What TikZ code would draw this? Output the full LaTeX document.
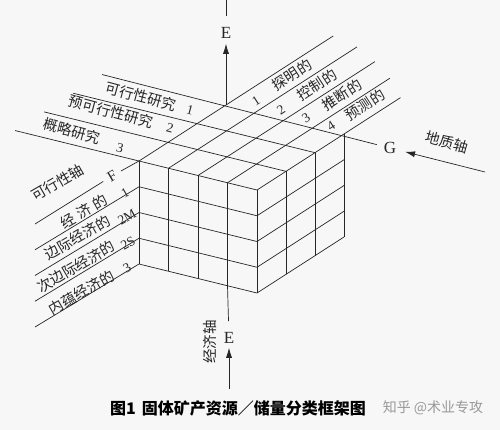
\documentclass[tikz,border=0pt]{standalone}
\usepackage{fontspec}
\setmainfont{Liberation Serif}
\newfontfamily\cjk{Noto Sans CJK SC}
\usetikzlibrary{arrows.meta}

\begin{document}
\begin{tikzpicture}
[x=1pt,y=-1pt,
  gridLine/.style={line width=0.7pt,black!85},
  axisArrow/.style={line width=0.7pt,black!85,-{Latex[length=10pt,width=6pt]}},
  tagText/.style={font=\cjk\fontsize{14.5}{14.5}\selectfont,inner sep=0pt,text=black!85},
  numText/.style={font=\fontsize{13.5}{13.5}\selectfont,inner sep=0pt,text=black!85},
  axisText/.style={font=\fontsize{17}{17}\selectfont,inner sep=1pt,text=black!85}]
\path[use as bounding box,fill=black!3] (0,0) rectangle (500,430);

%% axis letters and free ends
\node[axisText] (Etop) at (226,33) {E};
\node[axisText] (Ebot) at (229,338) {E};
\node[axisText] (G) at (390,148) {G};
\node[axisText,font=\fontsize{15}{15}\selectfont,rotate=30] (F) at (112,176) {F};
\coordinate (Eend) at (226,0);
\coordinate (Etail) at (229,389);
\coordinate (Gtail) at (485,172);
\coordinate (Fend) at (35,224);

%% the cube, in cell units
\begin{scope}[shift={(226,105)},x={(29.5pt,-7.25pt)},y={(-29pt,-18.67pt)},z={(0pt,-25.75pt)}]
  \coordinate (O) at (0,0,0);
  \coordinate (Fcorner) at (0,3,0);
  \coordinate (Ebase) at (3,3,4);
  % feasibility lines
  \foreach \feas in {1,2,3}
    \draw[gridLine] (-4.2,\feas,0) -- (4,\feas,0);
  \draw[gridLine,shorten >=6pt] (-4.2,0,0) -- (G);
  % geology lines
  \foreach \geo/\len in {0/3.7,1/3.5,2/3.1,3/2.6,4/1.95}
    \draw[gridLine] (\geo,3,0) -- (\geo,-\len,0);
  % front and right faces
  \foreach \geo in {0,...,4}
    \draw[gridLine] (\geo,3,0) -- (\geo,3,4);
  \foreach \feas in {0,1,2}
    \draw[gridLine] (4,\feas,0) -- (4,\feas,4);
  \foreach \econ in {1,...,4}
    \draw[gridLine] (0,3,\econ) -- (4,3,\econ) -- (4,0,\econ);
  % economic lines
  \foreach \econ in {1,...,4}
    \draw[gridLine] (0,3,\econ) -- ++(-104pt,-63pt);
\end{scope}

%% axes
\draw[gridLine,shorten >=5pt] (Fend) -- (F);
\draw[gridLine,shorten <=5pt] (F) -- (Fcorner);
\draw[axisArrow,shorten >=4pt] (O) -- (Etop);
\draw[gridLine,shorten <=10pt] (Etop) -- (Eend);
\draw[gridLine,shorten >=10pt] (Ebase) -- (Ebot);
\draw[axisArrow,shorten >=3pt] (Etail) -- (Ebot);
\draw[axisArrow,shorten >=8pt] (Gtail) -- (G);

%% feasibility labels
\foreach \tagname/\x/\y/\tagtext in {fs/141/96.5/可行性研究, pfs/111/111.5/预可行性研究, ss/71.5/131/概略研究}
  \node[tagText,rotate=-15] (\tagname) at (\x,\y) {\tagtext};
\foreach \numname/\x/\y/\numtext in {fsn/190/110/1, pfsn/170/128/2, ssn/120/148/3}
  \node[numText,rotate=-15] (\numname) at (\x,\y) {\numtext};

%% geology labels
\foreach \tagname/\x/\y/\tagtext in {geo1/292/75/探明的, geo2/317/85/控制的, geo3/342/95/推断的, geo4/365/105/预测的}
  \node[tagText,rotate=33] (\tagname) at (\x,\y) {\tagtext};
\foreach \numname/\x/\y/\numtext in {geo1n/256/101/1, geo2n/281/110/2, geo3n/306/118/3, geo4n/331/126/4}
  \node[numText,rotate=33] (\numname) at (\x,\y) {\numtext};

%% economic labels
\node[tagText,rotate=30] (faxis) at (57.5,182.5) {可行性轴};
\foreach \tagname/\x/\y/\tagtext in {eco1/84/211.5/经\hspace{4.5pt}济\hspace{4.5pt}的, eco2/77.5/237.5/边际经济的, eco3/76/266.5/次边际经济的, eco4/81.5/292.5/内蕴经济的}
  \node[tagText,rotate=30] (\tagname) at (\x,\y) {\tagtext};
\foreach \numname/\x/\y/\numtext in {eco1n/125/193/1, eco2n/127/217/2M, eco3n/128/243/2S, eco4n/127/268/3}
  \node[numText,rotate=30] (\numname) at (\x,\y) {\numtext};

%% axis names
\node[tagText,rotate=-16] (geoAxis) at (447,142) {地质轴};
\node[tagText,rotate=90] (ecoAxis) at (210,342) {经济轴};

%% caption
\node[font=\cjk\bfseries\fontsize{16}{16}\selectfont,inner sep=0pt] (caption) at (238,408) {图1\hspace{6pt}固体矿产资源／储量分类框架图};
\node[font=\cjk\fontsize{14}{14}\selectfont,text=black!40,inner sep=0pt] (mark) at (433,408) {知乎 @术业专攻};
\end{tikzpicture}
\end{document}
